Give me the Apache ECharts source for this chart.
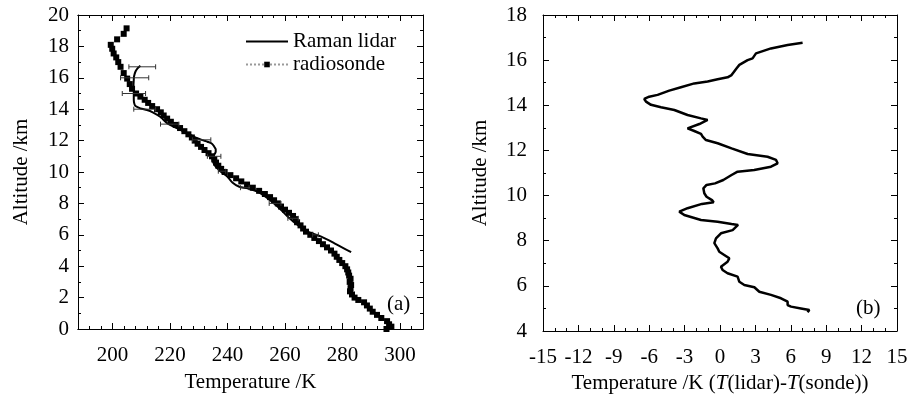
<!DOCTYPE html>
<html>
<head>
<meta charset="utf-8">
<script src="https://cdn.jsdelivr.net/npm/echarts@6/dist/echarts.min.js"></script>
<style>html,body{margin:0;background:#fff}#main{width:908px;height:396px}</style>
</head>
<body>
<div id="main"></div>
<script>
// (a) radiosonde profile
var sondeAlt = [0.0, 0.15, 0.3, 0.5, 0.7, 0.9, 1.1, 1.3, 1.5, 1.7, 1.85, 2.0, 2.2, 2.4, 2.6, 2.8, 3.0, 3.2, 3.4, 3.6, 3.8,
  4.0, 4.2, 4.4, 4.6, 4.8, 5.0, 5.2, 5.4, 5.6, 5.8, 6.0, 6.2, 6.4, 6.6, 6.8, 7.0, 7.2, 7.4, 7.6, 7.8,
  8.0, 8.2, 8.4, 8.6, 8.8, 9.0, 9.2, 9.4, 9.6, 9.8, 10.0, 10.2, 10.4, 10.6, 10.8, 11.0, 11.2, 11.4, 11.6, 11.8,
  12.0, 12.2, 12.4, 12.6, 12.8, 13.0, 13.2, 13.4, 13.6, 13.8, 14.0, 14.2, 14.4, 14.6, 14.8, 15.0, 15.3, 15.6,
  15.95, 16.3, 16.7, 17.0, 17.3, 17.55, 17.85, 18.1, 18.45, 18.8, 19.15];
var sondeT = [295.3, 297.0, 296.2, 295.5, 293.5, 292.0, 290.5, 289.5, 288.5, 287.5, 285.5, 284.2, 283.3, 282.6, 282.8, 283.0, 282.5, 282.8, 282.3, 282.0, 281.6,
  281.0, 279.9, 278.9, 278.0, 277.2, 276.0, 274.6, 273.2, 271.8, 270.2, 268.8, 267.3, 266.3, 265.4, 264.2, 263.6, 262.8, 261.4, 260.0, 258.6,
  257.5, 256.2, 254.8, 253.0, 251.0, 248.8, 246.8, 244.8, 243.0, 241.0, 239.0, 237.8, 236.8, 236.0, 235.4, 234.6, 233.4, 232.0, 230.8, 229.6,
  228.6, 227.6, 226.4, 225.0, 223.5, 222.0, 220.3, 219.0, 217.8, 216.8, 215.5, 213.8, 212.4, 211.2, 209.7, 208.2, 206.8, 206.0,
  205.1, 203.9, 202.8, 202.0, 201.3, 200.4, 199.9, 199.4, 201.6, 203.9, 204.9];

// (a) Raman lidar profile
var lidarAlt = [16.77, 16.6, 16.4, 16.1, 15.86, 15.5, 15.2, 14.9, 14.6, 14.35, 14.2, 14.05, 13.95, 13.8, 13.5, 13.1, 12.78, 12.46,
  12.15, 12.0, 11.93, 11.8, 11.61, 11.45, 11.29, 11.08, 10.9, 10.76, 10.55, 10.34, 10.02, 9.7, 9.32, 9.06, 8.96, 8.75, 8.32,
  7.79, 7.15, 6.62, 6.2, 5.88, 5.46, 4.89];
var lidarT = [209.7, 208.7, 208.0, 207.5, 207.4, 207.3, 207.4, 207.4, 207.4, 207.6, 208.0, 209.7, 212.0, 214.0, 216.7, 219.1, 222.6, 226.0,
  229.5, 231.8, 233.0, 234.6, 235.4, 235.9, 235.9, 235.3, 234.9, 234.8, 235.2, 235.9, 237.7, 240.0, 241.8, 244.1, 247.0, 250.5, 254.0,
  257.5, 261.0, 264.4, 267.9, 272.6, 277.2, 283.0];

// lidar error bars
var errAlt = [16.7, 16.0, 15.0, 14.0, 13.05, 12.05, 11.0, 10.05, 9.0, 8.0, 7.05, 6.0];
var errLo = [205.7, 202.8, 203.4, 207.4, 216.7, 227.8, 233.0, 236.8, 244.5, 254.5, 261.0, 269.6];
var errHi = [215.0, 212.6, 211.5, 215.0, 223.1, 234.2, 237.7, 239.4, 247.5, 258.6, 264.6, 271.6];

// (b) T(lidar) - T(sonde)
var diffAlt = [16.77, 16.67, 16.52, 16.3, 16.08, 16.0, 15.79, 15.64, 15.34, 15.24, 15.15, 15.05, 14.97, 14.8, 14.65, 14.46, 14.38,
  14.28, 14.16, 14.02, 13.91, 13.79, 13.57, 13.42, 13.35, 13.17, 12.98, 12.86, 12.73, 12.61, 12.54, 12.46, 12.32, 12.09, 11.84,
  11.72, 11.58, 11.43, 11.28, 11.13, 11.06, 10.91, 10.69, 10.54, 10.47, 10.32, 10.1, 9.95, 9.8, 9.7, 9.63, 9.44, 9.29, 9.14,
  8.92, 8.84, 8.74, 8.7, 8.47, 8.33, 8.1, 7.89, 7.66, 7.51, 7.37, 7.22, 7.07, 6.85, 6.7, 6.56, 6.41, 6.18, 6.04, 5.94, 5.74,
  5.6, 5.45, 5.3, 5.15, 5.08, 5.0, 4.93, 4.83];
var diffT = [7.0, 5.73, 4.32, 3.05, 2.76, 2.34, 1.64, 1.41, 0.98, 0.64, -0.2, -1.05, -2.18, -3.31, -4.3, -5.29, -6.0,
  -6.42, -6.27, -5.85, -5.0, -3.87, -2.75, -1.61, -1.05, -1.75, -2.75, -2.18, -1.61, -1.47, -1.61, -1.19, -0.2, 0.98, 2.34,
  4.03, 4.75, 4.88, 4.32, 2.9, 1.49, 0.98, 0.28, -0.42, -1.14, -1.41, -1.33, -1.14, -0.68, -0.54, -1.53, -2.75, -3.45, -3.03,
  -1.61, -0.2, 0.98, 1.53, 1.07, 0.08, -0.34, -0.48, -0.2, -0.06, 0.36, 0.79, 0.64, 0.08, 0.22, 0.64, 1.49, 1.64, 2.06, 2.91, 3.33,
  4.32, 5.17, 5.73, 5.73, 6.02, 6.86, 7.57, 7.42];

// tick labels
var xTicksA = [200, 220, 240, 260, 280, 300];

var FONT = 'Liberation Serif';
var FS = 21;

function zip(xs, ys) {
  return xs.map(function (x, i) { return [x, ys[i]]; });
}

function xAxisA(pos, major) {
  return {
    type: 'value', gridIndex: 0, position: pos, min: 188, max: 308, interval: 4,
    axisLine: { show: true, onZero: false, lineStyle: { color: '#000', width: 1 } },
    axisTick: major
      ? { show: true, inside: true, length: 6, customValues: xTicksA, lineStyle: { color: '#000' } }
      : { show: true, inside: true, length: 3, lineStyle: { color: '#000' } },
    axisLabel: (major && pos === 'bottom')
      ? { show: true, customValues: xTicksA, margin: 16, color: '#000', fontFamily: FONT, fontSize: FS }
      : { show: false },
    splitLine: { show: false },
    name: (major && pos === 'bottom') ? 'Temperature /K' : '',
    nameLocation: 'middle', nameGap: 43,
    nameTextStyle: { color: '#000', fontFamily: FONT, fontSize: FS }
  };
}

function valAxis(grid, pos, min, max, interval, split, labels, name, nameGap, margin) {
  return {
    type: 'value', gridIndex: grid, position: pos, min: min, max: max, interval: interval,
    axisLine: { show: true, onZero: false, lineStyle: { color: '#000', width: 1 } },
    axisTick: { show: true, inside: true, length: 6, lineStyle: { color: '#000' } },
    minorTick: { show: true, splitNumber: split, length: 3, lineStyle: { color: '#000' } },
    axisLabel: { show: labels, margin: margin, color: '#000', fontFamily: FONT, fontSize: FS },
    splitLine: { show: false },
    name: name, nameLocation: 'middle', nameGap: nameGap,
    nameTextStyle: {
      color: '#000', fontFamily: FONT, fontSize: FS,
      rich: { i: { fontStyle: 'italic', fontFamily: FONT, fontSize: FS, color: '#000' } }
    }
  };
}

var chart = echarts.init(document.getElementById('main'));
chart.setOption({
  animation: false,
  backgroundColor: '#fff',
  grid: [
    { left: 78, top: 15, width: 345, height: 314, outerBoundsMode: 'none', containLabel: false },
    { left: 543, top: 15, width: 354, height: 316, outerBoundsMode: 'none', containLabel: false }
  ],
  legend: {
    data: [
      { name: 'Raman lidar', itemStyle: { opacity: 0 } },
      { name: 'radiosonde' }
    ],
    orient: 'vertical', left: 240, top: 26, itemWidth: 42, itemHeight: 7, itemGap: 2,
    textStyle: { color: '#000', fontFamily: FONT, fontSize: FS }
  },
  xAxis: [
    xAxisA('bottom', false),
    xAxisA('bottom', true),
    xAxisA('top', false),
    xAxisA('top', true),
    valAxis(1, 'bottom', -15, 15, 3, 3, true, 'Temperature /K ({i|T}(lidar)-{i|T}(sonde))', 41, 16),
    valAxis(1, 'top', -15, 15, 3, 3, false, '', 0, 0)
  ],
  yAxis: [
    valAxis(0, 'left', 0, 20, 2, 2, true, 'Altitude /km', 46, 9),
    valAxis(0, 'right', 0, 20, 2, 2, false, '', 0, 0),
    valAxis(1, 'left', 4, 18, 2, 2, true, 'Altitude /km', 52, 16),
    valAxis(1, 'right', 4, 18, 2, 2, false, '', 0, 0)
  ],
  graphic: [
    { type: 'text', left: 387, top: 294, style: { text: '(a)', font: FS + 'px "Liberation Serif"', fill: '#000' } },
    { type: 'text', left: 856, top: 298, style: { text: '(b)', font: FS + 'px "Liberation Serif"', fill: '#000' } }
  ],
  series: [
    {
      name: 'radiosonde', type: 'line', xAxisIndex: 0, yAxisIndex: 0,
      data: zip(sondeT, sondeAlt),
      symbol: 'rect', symbolSize: 6, showSymbol: true,
      itemStyle: { color: '#000' },
      lineStyle: { color: '#999', width: 0.8, type: 'dotted' },
      z: 2
    },
    {
      name: 'Raman lidar', type: 'line', xAxisIndex: 0, yAxisIndex: 0,
      data: zip(lidarT, lidarAlt),
      symbol: 'none', smooth: 0.3,
      itemStyle: { color: '#000' },
      lineStyle: { color: '#000', width: 2 },
      z: 3
    },
    {
      type: 'custom', xAxisIndex: 0, yAxisIndex: 0,
      data: errAlt.map(function (a, i) { return [errLo[i], errHi[i], a]; }),
      encode: { x: [0, 1], y: 2 },
      renderItem: function (params, api) {
        var y = api.value(2);
        var p1 = api.coord([api.value(0), y]);
        var p2 = api.coord([api.value(1), y]);
        var c = 2.5;
        var st = { stroke: '#333', lineWidth: 1 };
        return {
          type: 'group', children: [
            { type: 'line', shape: { x1: p1[0], y1: p1[1], x2: p2[0], y2: p2[1] }, style: st },
            { type: 'line', shape: { x1: p1[0], y1: p1[1] - c, x2: p1[0], y2: p1[1] + c }, style: st },
            { type: 'line', shape: { x1: p2[0], y1: p2[1] - c, x2: p2[0], y2: p2[1] + c }, style: st }
          ]
        };
      },
      z: 4
    },
    {
      type: 'line', xAxisIndex: 4, yAxisIndex: 2,
      data: zip(diffT, diffAlt),
      symbol: 'none',
      lineStyle: { color: '#000', width: 2.5 }
    }
  ]
});
</script>
</body>
</html>
